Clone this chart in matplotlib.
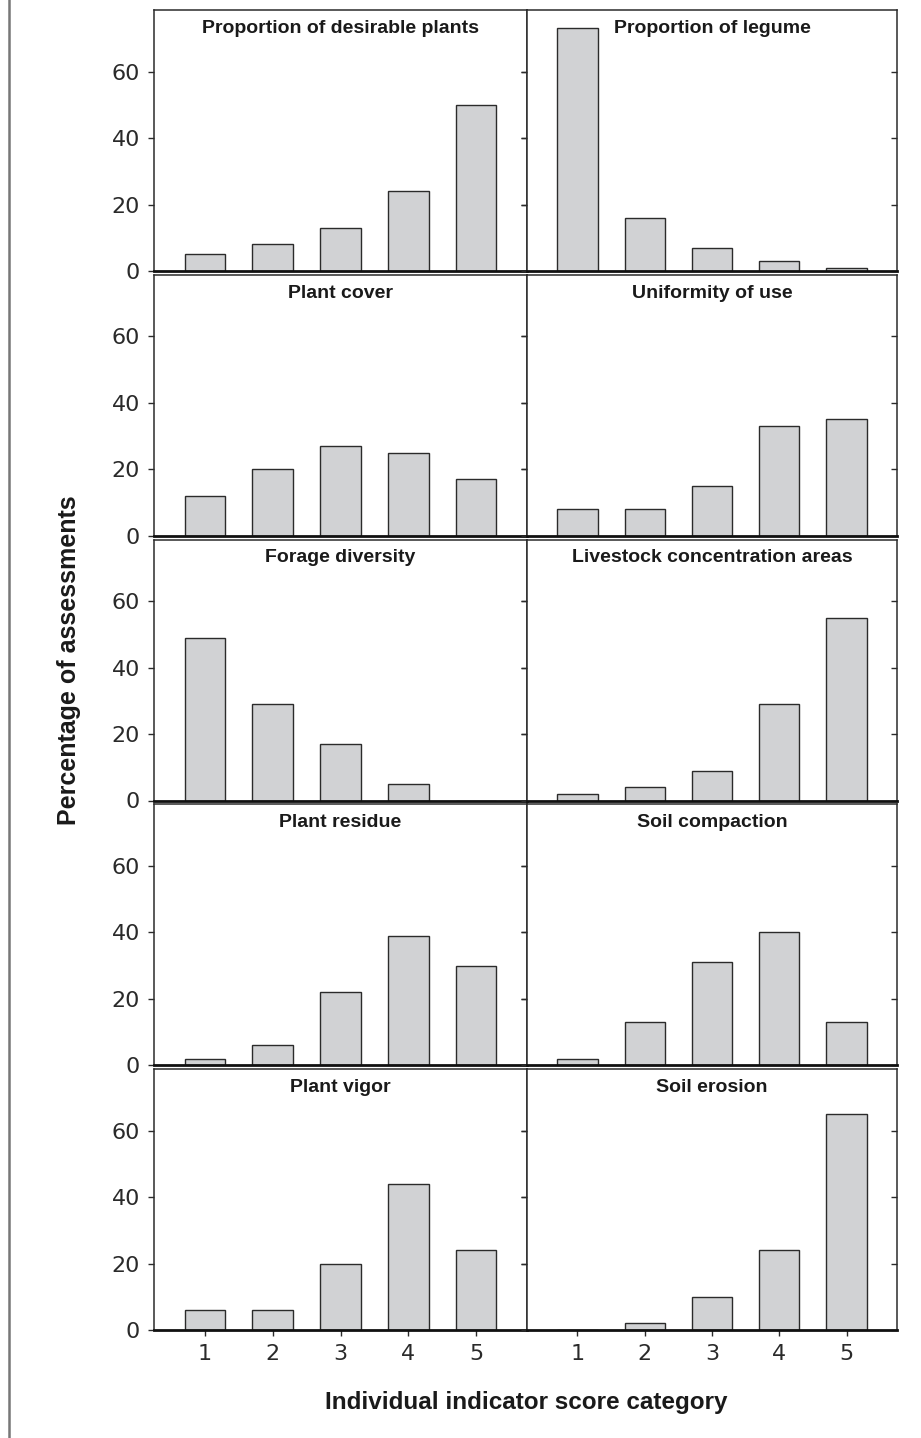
import matplotlib.pyplot as plt
from matplotlib.lines import Line2D

categories = [1, 2, 3, 4, 5]

titles = [
    "Proportion of desirable plants", "Proportion of legume",
    "Plant cover", "Uniformity of use",
    "Forage diversity", "Livestock concentration areas",
    "Plant residue", "Soil compaction",
    "Plant vigor", "Soil erosion",
]

desirable_plants = [5, 8, 13, 24, 50]
legume = [73, 16, 7, 3, 1]
plant_cover = [12, 20, 27, 25, 17]
uniformity = [8, 8, 15, 33, 35]
forage_diversity = [49, 29, 17, 5, 0]
livestock_areas = [2, 4, 9, 29, 55]
plant_residue = [2, 6, 22, 39, 30]
soil_compaction = [2, 13, 31, 40, 13]
plant_vigor = [6, 6, 20, 44, 24]
soil_erosion = [0, 2, 10, 24, 65]

series = [desirable_plants, legume, plant_cover, uniformity, forage_diversity,
          livestock_areas, plant_residue, soil_compaction, plant_vigor, soil_erosion]

yticks = [0, 20, 40, 60]

W, H = 921, 1438
fig = plt.figure(figsize=(W / 100, H / 100), dpi=100)

col_x = [(154, 527), (527, 897)]
row_top0, row_bot0, row_step = 10, 271, 264.75

edge = "#2b2b2b"
for i, (title, vals) in enumerate(zip(titles, series)):
    r, c = divmod(i, 2)
    x0, x1 = col_x[c]
    top = row_top0 + r * row_step
    bot = row_bot0 + r * row_step
    ax = fig.add_axes([x0 / W, 1 - bot / H, (x1 - x0) / W, (bot - top) / H])
    ax.bar(categories, vals, width=0.6, color="#d1d2d4", edgecolor=edge, linewidth=1.0)
    ax.set_xlim(0.25, 5.75)
    ax.set_ylim(0, 78.5)
    ax.set_yticks(yticks)
    for s in ax.spines.values():
        s.set_color(edge)
        s.set_linewidth(1.1)
    ax.spines["bottom"].set_linewidth(2.0)
    ax.spines["bottom"].set_color("#111111")
    ax.tick_params(axis="y", which="both", left=True, right=False, direction="out",
                   length=4, width=1, color=edge, labelsize=16, labelcolor="#2a2a2a", pad=6)
    # inward ticks on right side
    sec = ax.secondary_yaxis("right")
    sec.set_yticks(yticks)
    sec.tick_params(direction="in", length=4, width=1, color=edge, labelright=False)
    sec.spines["right"].set_visible(False)
    if c == 1:
        ax.tick_params(axis="y", labelleft=False)
    if r == 4:
        ax.set_xticks(categories)
        ax.tick_params(axis="x", direction="out", length=4, width=1, color=edge,
                       labelsize=16, labelcolor="#2a2a2a", pad=6)
    else:
        ax.set_xticks([])
    ax.text(0.5, 0.93, title, transform=ax.transAxes, ha="center", va="center",
            fontsize=14, fontweight="bold", color="#1a1a1a", family="Liberation Sans")

fig.text(69 / W, 1 - 660 / H, "Percentage of assessments", rotation=90,
         ha="center", va="center", fontsize=18, fontweight="bold", color="#1a1a1a",
         family="Liberation Sans")
fig.text(526 / W, 1 - 1403 / H, "Individual indicator score category",
         ha="center", va="center", fontsize=17.5, fontweight="bold", color="#1a1a1a",
         family="Liberation Sans")

fig.add_artist(Line2D([8.5 / W, 8.5 / W], [0, 1], transform=fig.transFigure,
                      color="#777777", linewidth=1.8))

fig.savefig("out.png", dpi=100, facecolor="white")
